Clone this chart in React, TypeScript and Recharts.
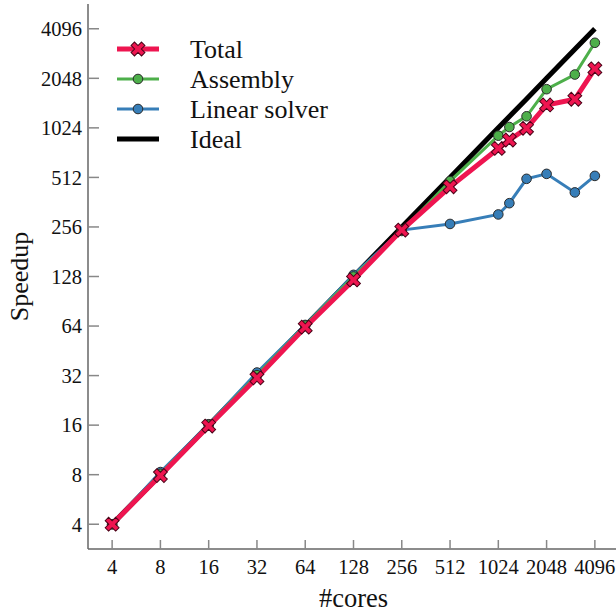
import React from 'react';
import { LineChart, Line, XAxis, YAxis, Legend } from 'recharts';

// number of cores and measured speedups (log2-log2 plot)
const cores = [4, 8, 16, 32, 64, 128, 256, 512, 1024, 1200, 1536, 2048, 3072, 4096];
const total = [4, 7.9, 15.8, 31, 63, 122, 245, 449, 768, 864, 1018, 1411, 1528, 2337];
const assembly = [4, 8.1, 16.1, 32.2, 64.5, 128, 242, 486, 918, 1036, 1204, 1759, 2159, 3367];
const linearSolver = [4, 8.3, 16.2, 33.4, 65, 131, 245, 267, 305, 357, 502, 538, 415, 523];
const ideal = cores;
const powerTicks = [4, 8, 16, 32, 64, 128, 256, 512, 1024, 2048, 4096];

const rows = cores.map((c, i) => ({
  cores: c,
  total: total[i],
  assembly: assembly[i],
  linear: linearSolver[i],
  ideal: ideal[i],
}));

const RED = '#ee1550';
const GREEN = '#4daf4a';
const BLUE = '#377eb8';
const FONT = '"Liberation Serif", "DejaVu Serif", serif';
const DOMAIN: [number, number] = [Math.pow(2, 1.5), Math.pow(2, 12.5)];
const axisStroke = { stroke: '#666', strokeWidth: 1.5 };
const tickStroke = { stroke: '#888', strokeWidth: 1.5 };

function XMark({ cx, cy }: { cx: number; cy: number }) {
  const L = 7.4, w = 2.4;
  const pts = [[-w, -L], [w, -L], [w, -w], [L, -w], [L, w], [w, w], [w, L], [-w, L], [-w, w], [-L, w], [-L, -w], [-w, -w]]
    .map(p => p.join(',')).join(' ');
  return <polygon points={pts} transform={`translate(${cx},${cy}) rotate(45)`} fill={RED} stroke="#4a0418" strokeWidth={1} />;
}

const legendItems = [
  { name: 'Total', color: RED, width: 5, mark: 'x' },
  { name: 'Assembly', color: GREEN, width: 3, mark: 'o' },
  { name: 'Linear solver', color: BLUE, width: 3, mark: 'o' },
  { name: 'Ideal', color: '#000', width: 5, mark: '' },
];

function renderLegend() {
  return (
    <svg width={240} height={124} style={{ display: 'block' }}>
      {legendItems.map((it, i) => {
        const y = 15 + i * 30;
        return (
          <g key={it.name}>
            <line x1={0} x2={42} y1={y} y2={y} stroke={it.color} strokeWidth={it.width} />
            {it.mark === 'x' && <XMark cx={21} cy={y} />}
            {it.mark === 'o' && <circle cx={21} cy={y} r={4.8} fill={it.color} stroke="#2b2b2b" strokeWidth={1} />}
            <text x={73} y={y + 8.6} fontSize={26} fontFamily={FONT} fill="#111">{it.name}</text>
          </g>
        );
      })}
    </svg>
  );
}

export default function App() {
  const tickFont = { fontSize: 20.5, fontFamily: FONT, fill: '#111' };
  return (
    <div style={{ position: 'absolute', left: 0, top: 0, width: 616, height: 612, overflow: 'hidden', background: '#fff' }}>
      <LineChart width={630} height={612} data={rows} margin={{ top: 4, right: 11, bottom: 0, left: 0 }}>
        <XAxis xAxisId="b" dataKey="cores" type="number" scale="log" domain={DOMAIN} ticks={powerTicks}
          allowDataOverflow height={63} tickSize={-9} tickMargin={19} axisLine={axisStroke} tickLine={tickStroke}
          tick={tickFont} interval={0}
          label={{ value: '#cores', position: 'insideBottom', offset: 5, fontSize: 26.5, fontFamily: FONT, fill: '#111' }} />
        <XAxis xAxisId="t" orientation="top" dataKey="cores" type="number" scale="log" domain={DOMAIN} ticks={powerTicks}
          allowDataOverflow height={0} tickSize={-9} axisLine={axisStroke} tickLine={tickStroke}
          tickFormatter={() => ''} interval={0} />
        <YAxis yAxisId="l" type="number" scale="log" domain={DOMAIN} ticks={powerTicks} allowDataOverflow
          width={88} tickSize={-11} tickMargin={17} axisLine={axisStroke} tickLine={tickStroke} tick={tickFont} interval={0}
          label={(p: any) => {
            const vb = p.viewBox || { y: 4, height: 545 };
            const cy = vb.y + vb.height / 2;
            return (
              <text x={28} y={cy} transform={`rotate(-90 28 ${cy})`} textAnchor="middle" fontSize={26} fontFamily={FONT} fill="#111">
                Speedup
              </text>
            );
          }} />
        <YAxis yAxisId="r" orientation="right" type="number" scale="log" domain={DOMAIN} ticks={powerTicks} allowDataOverflow
          width={0} tickSize={-11} axisLine={axisStroke} tickLine={tickStroke} tickFormatter={() => ''} interval={0} />
        <Legend layout="vertical" align="center" verticalAlign="middle" content={renderLegend}
          wrapperStyle={{ left: 117, top: 34, width: 240, height: 124 }} />
        <Line xAxisId="b" yAxisId="l" type="linear" dataKey="ideal" stroke="#000" strokeWidth={5} dot={false}
          activeDot={false} isAnimationActive={false} />
        <Line xAxisId="b" yAxisId="l" type="linear" dataKey="linear" stroke={BLUE} strokeWidth={3}
          dot={{ r: 4.8, fill: BLUE, stroke: '#2b2b2b', strokeWidth: 1 }} activeDot={false} isAnimationActive={false} />
        <Line xAxisId="b" yAxisId="l" type="linear" dataKey="assembly" stroke={GREEN} strokeWidth={3}
          dot={{ r: 4.8, fill: GREEN, stroke: '#2b2b2b', strokeWidth: 1 }} activeDot={false} isAnimationActive={false} />
        <Line xAxisId="b" yAxisId="l" type="linear" dataKey="total" stroke={RED} strokeWidth={5}
          dot={(p: any) => <XMark key={`x${p.index}`} cx={p.cx} cy={p.cy} />} activeDot={false} isAnimationActive={false} />
      </LineChart>
    </div>
  );
}
